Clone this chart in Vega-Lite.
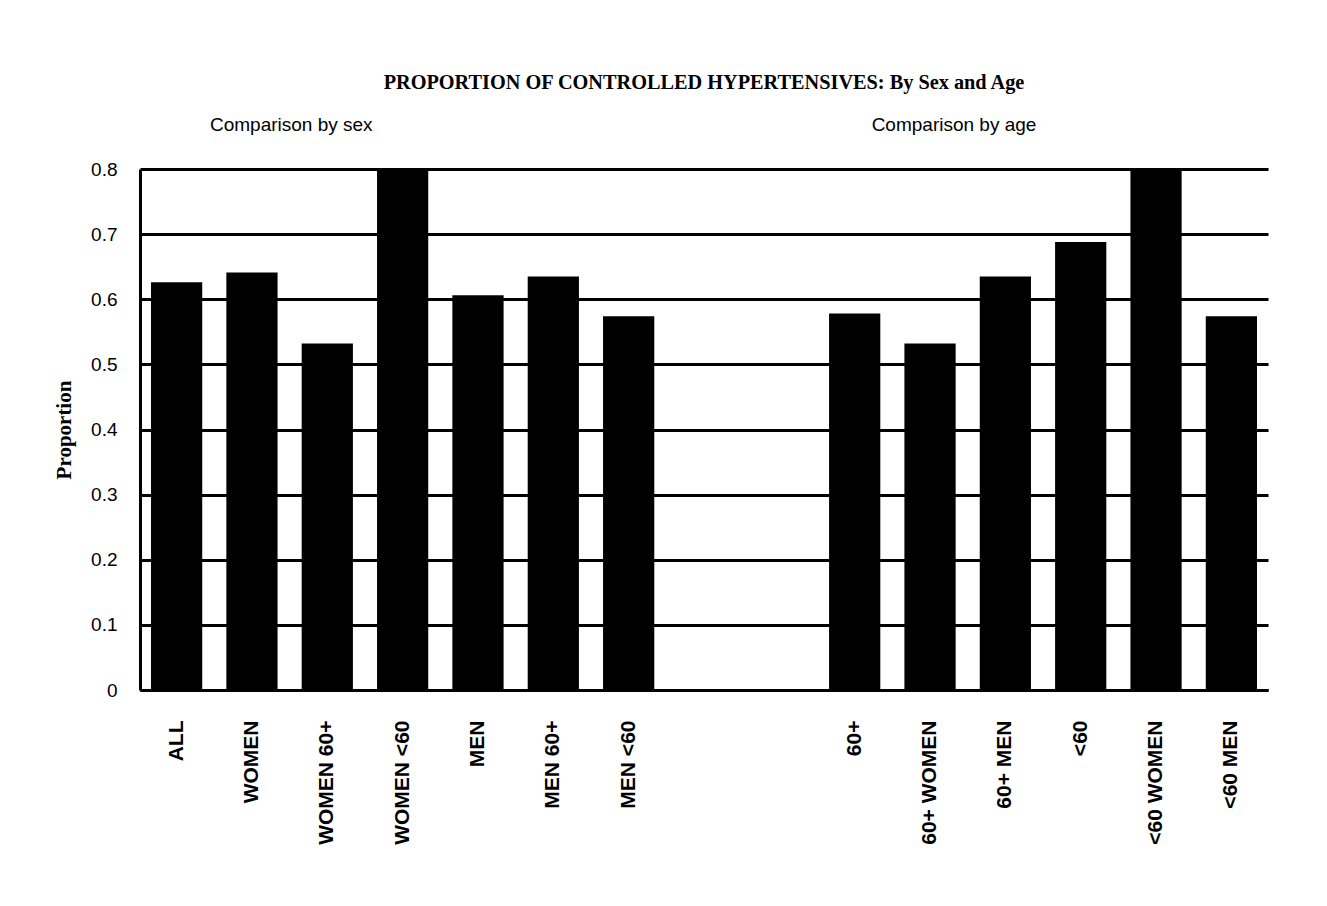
{
  "$schema": "https://vega.github.io/schema/vega-lite/v6.json",
  "width": 1128,
  "height": 521,
  "autosize": {"type": "none"},
  "padding": {"left": 140, "top": 169, "right": 59, "bottom": 216},
  "background": "white",
  "config": {"view": {"stroke": null}, "font": "Liberation Sans"},
  "title": {
    "text": "PROPORTION OF CONTROLLED HYPERTENSIVES: By Sex and Age",
    "font": "Liberation Serif",
    "fontSize": 20.3,
    "fontWeight": "bold",
    "color": "black",
    "anchor": "middle",
    "offset": 22
  },
  "datasets": {
    "bars": [
      {"cat": "ALL", "value": 0.626},
      {"cat": "WOMEN", "value": 0.641},
      {"cat": "WOMEN 60+", "value": 0.532},
      {"cat": "WOMEN <60", "value": 0.8},
      {"cat": "MEN", "value": 0.606},
      {"cat": "MEN 60+", "value": 0.635},
      {"cat": "MEN <60", "value": 0.574},
      {"cat": "60+", "value": 0.578},
      {"cat": "60+ WOMEN", "value": 0.532},
      {"cat": "60+ MEN", "value": 0.635},
      {"cat": "<60", "value": 0.688},
      {"cat": "<60 WOMEN", "value": 0.8},
      {"cat": "<60 MEN", "value": 0.574}
    ],
    "note_sex": [{"cat": "WOMEN 60+", "label": "Comparison by sex", "value": 0.868}],
    "note_age": [{"cat": "60+ WOMEN", "label": "Comparison by age", "value": 0.868}]
  },
  "encoding": {
    "x": {
      "field": "cat",
      "type": "nominal",
      "sort": null,
      "scale": {
        "domain": ["ALL", "WOMEN", "WOMEN 60+", "WOMEN <60", "MEN", "MEN 60+", "MEN <60", " ", "  ", "60+", "60+ WOMEN", "60+ MEN", "<60", "<60 WOMEN", "<60 MEN"],
        "paddingInner": 0.32,
        "paddingOuter": 0.146
      },
      "axis": {
        "title": null,
        "labelAngle": -90,
        "labelFont": "Liberation Sans",
        "labelFontWeight": "bold",
        "labelFontSize": 21,
        "labelColor": "black",
        "labelPadding": 30,
        "ticks": false,
        "domainColor": "black",
        "domainWidth": 3
      }
    },
    "y": {
      "field": "value",
      "type": "quantitative",
      "scale": {"domain": [0, 0.8], "nice": false},
      "axis": {
        "title": "Proportion",
        "titleFont": "Liberation Serif",
        "titleFontWeight": "bold",
        "titleFontSize": 21,
        "titleColor": "black",
        "titlePadding": 16,
        "values": [0, 0.1, 0.2, 0.3, 0.4, 0.5, 0.6, 0.7, 0.8],
        "format": "~g",
        "labelFont": "Liberation Sans",
        "labelFontSize": 19,
        "labelColor": "black",
        "labelPadding": 23,
        "ticks": false,
        "domainColor": "black",
        "domainWidth": 3,
        "grid": true,
        "gridColor": "black",
        "gridWidth": 3,
        "gridOpacity": 1
      }
    }
  },
  "layer": [
    {
      "data": {"name": "bars"},
      "mark": {"type": "bar", "color": "black"}
    },
    {
      "data": {"name": "note_sex"},
      "mark": {"type": "text", "font": "Liberation Sans", "fontSize": 19, "color": "black", "baseline": "middle", "align": "center", "dx": -36},
      "encoding": {"text": {"field": "label"}}
    },
    {
      "data": {"name": "note_age"},
      "mark": {"type": "text", "font": "Liberation Sans", "fontSize": 19, "color": "black", "baseline": "middle", "align": "center", "dx": 24},
      "encoding": {"text": {"field": "label"}}
    }
  ]
}
